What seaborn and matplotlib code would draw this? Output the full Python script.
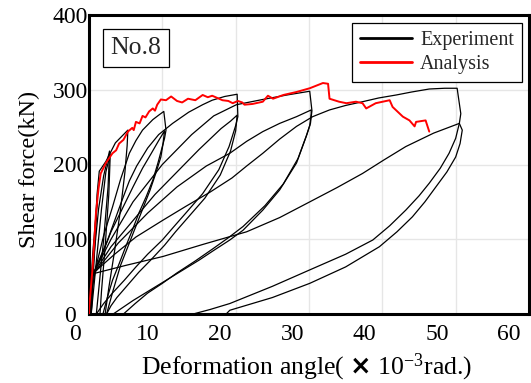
import numpy as np
import pandas as pd
import matplotlib
matplotlib.use("Agg")
import matplotlib.pyplot as plt
from matplotlib.lines import Line2D
from matplotlib.transforms import ScaledTranslation
import seaborn as sns

# ---------------- data ----------------
x_ticks = [0, 10, 20, 30, 40, 50, 60]
y_ticks = [0, 100, 200, 300, 400]

# Analysis (red envelope)
ana_x = [0, 0.04, 0.5, 0.95, 1.3, 1.6, 2.3, 3.2, 3.7, 4.1, 4.7, 5.3, 5.9, 6.1, 6.4, 6.9, 7.3,
         7.7, 8.2, 8.7, 9.0, 9.3, 9.8, 10.5, 11.2, 12.0, 12.7, 13.5, 14.5, 15.5, 16.2, 16.8,
         17.5, 18.2, 19.0, 19.6, 20.3, 20.9, 21.2, 22.3, 23.7, 24.4, 25.1, 26.5, 28.3, 30.1,
         31.9, 32.6, 32.8, 34.1, 35.1, 36.4, 37.3, 37.8, 39.1, 41.0, 41.4, 42.8, 43.7, 44.4,
         44.6, 45.9, 46.4]
ana_y = [0, 10, 63, 135, 168, 188, 202, 215, 219, 228, 233, 244, 249, 246, 257, 255, 265,
         263, 271, 275, 272, 280, 287, 286, 291, 285, 283, 288, 286, 293, 290, 292,
         289, 286, 285, 282, 285, 283, 280, 281, 284, 292, 288, 293, 297, 302,
         309, 308, 288, 284, 282, 284, 282, 275, 282, 286, 277, 264, 259, 251,
         257, 259, 244]

# Experiment: one list pair per cycle (loading branch, peak, unloading branch)
c1_x = [0.0, 0.5, 1.1, 0.9, 0.6, 0.3]
c1_y = [0, 80, 150, 110, 55, 0]
c2a_x = [0.1, 0.6, 1.3, 2.0, 2.8, 2.6, 2.0, 1.4, 1.0]
c2a_y = [0, 70, 140, 185, 218, 170, 100, 40, 0]
c2b_x = [0.3, 1.0, 1.7, 2.3, 2.9, 2.7, 2.2, 1.7, 1.5]
c2b_y = [0, 70, 140, 190, 214, 160, 90, 30, 0]
c5_x = [0.3, 0.7, 1.1, 1.4, 2.3, 3.6, 5.3, 5.2, 4.9, 4.3, 3.5, 2.7, 2.2]
c5_y = [0, 90, 160, 191, 204, 229, 246, 225, 190, 140, 85, 35, 0]
c10a_x = [0.2, 0.95, 2.0, 3.2, 4.3, 5.5, 6.4, 7.3, 8.7, 9.5, 10.2, 10.5, 10.3, 10.0, 9.4,
          8.7, 7.8, 6.8, 5.9, 5.0, 4.1, 3.2, 2.5, 1.9]
c10a_y = [20, 63, 105, 143, 180, 215, 232, 246, 260, 266, 271, 246, 235, 224, 202,
          179, 157, 135, 112, 90, 67, 45, 22, 0]
c10b_x = [0.5, 1.8, 3.0, 4.5, 6.0, 7.3, 8.5, 9.5, 10.3, 10.1, 9.8, 9.1, 8.3, 7.3, 6.3, 5.3,
          4.3, 3.3, 2.4]
c10b_y = [52, 80, 110, 140, 170, 195, 215, 232, 245, 228, 210, 188, 165, 140, 115, 90,
          65, 32, 0]
c20a_x = [0.5, 1.5, 2.5, 3.5, 4.5, 5.5, 6.5, 8.0, 9.5, 11.4, 13.6, 15.5, 16.8, 18.5, 20.2,
          20.3, 20.0, 19.1, 17.7, 15.5, 13.2, 11.5, 10.0, 8.0, 6.4, 4.8, 3.2, 2.0, 1.0]
c20a_y = [52, 75, 98, 125, 152, 178, 198, 222, 240, 255, 270, 280, 286, 291, 294,
          264, 252, 224, 193, 161, 135, 116, 99, 80, 63, 45, 28, 14, 0]
c20b_x = [0.5, 3.0, 6.0, 9.0, 12.0, 15.0, 18.0, 19.3, 20.2, 20.1, 20.0, 19.3, 17.9, 15.8,
          13.4, 11.8, 10.3, 8.5, 6.8, 5.3, 3.8, 3.0, 2.4]
c20b_y = [52, 90, 125, 160, 190, 220, 248, 258, 266, 255, 245, 218, 186, 155,
          128, 110, 92, 73, 56, 39, 22, 11, 0]
c30a_x = [0.5, 3.0, 6.0, 10.0, 14.0, 17.0, 20.1, 23.7, 27.0, 30.1, 30.4, 30.2, 29.7, 28.5,
          26.5, 24.0, 21.0, 19.0, 17.0, 14.5, 12.0, 10.0, 8.0, 6.3, 4.7]
c30a_y = [52, 100, 150, 200, 240, 265, 280, 287, 293, 298, 272, 255, 240, 208,
          174, 145, 117, 102, 88, 71, 55, 41, 28, 14, 0]
c30b_x = [0.5, 4.0, 8.0, 12.0, 16.0, 19.2, 21.5, 23.7, 26.0, 28.3, 30.3, 30.3, 30.1, 29.6,
          28.3, 26.0, 23.7, 21.0, 19.2, 17.0, 15.0, 12.5, 10.0, 8.0, 6.0, 4.5, 3.3]
c30b_y = [52, 95, 135, 170, 198, 215, 231, 244, 255, 264, 273, 268, 252, 237,
          202, 166, 139, 112, 99, 85, 72, 57, 42, 30, 18, 8, 0]
c50a_x = [0.5, 3.5, 6.4, 10.0, 13.2, 16.5, 19.5, 21.5, 23.7, 26.0, 28.3, 30.5, 32.8, 35.0,
          37.3, 39.5, 41.9, 44.0, 46.4, 48.5, 50.2, 50.7, 50.5, 50.0, 49.1, 47.9, 46.4,
          45.0, 43.2, 41.0, 38.7, 35.0, 30.1, 25.0, 19.2, 16.5, 14.2]
c50a_y = [54, 80, 103, 125, 144, 163, 182, 198, 215, 234, 251, 264, 273, 279,
          284, 289, 293, 297, 301, 302, 302, 268, 255, 235, 215, 195, 175,
          158, 139, 118, 99, 80, 59, 37, 14, 6, 0]
c50b_x = [0.6, 5.0, 10.1, 15.5, 21.5, 26.0, 30.1, 33.8, 37.3, 40.2, 43.2, 47.0, 50.5, 50.9,
          50.6, 50.0, 48.8, 47.3, 45.8, 44.1, 42.0, 39.6, 35.0, 30.1, 25.0, 19.2, 18.7]
c50b_y = [54, 65, 77, 93, 110, 129, 150, 169, 188, 206, 224, 242, 255, 246,
          228, 210, 190, 170, 150, 130, 110, 90, 63, 41, 22, 5, 0]

exp_paths = [(c1_x, c1_y), (c2a_x, c2a_y), (c2b_x, c2b_y), (c5_x, c5_y),
             (c10a_x, c10a_y), (c10b_x, c10b_y), (c20a_x, c20a_y), (c20b_x, c20b_y),
             (c30a_x, c30a_y), (c30b_x, c30b_y), (c50a_x, c50a_y), (c50b_x, c50b_y)]

rows = []
for i, (xs, ys) in enumerate(exp_paths):
    for j, (xv, yv) in enumerate(zip(xs, ys)):
        rows.append({"x": xv, "y": yv, "seg": i, "order": j})
exp_df = pd.DataFrame(rows)
ana_df = pd.DataFrame({"x": ana_x, "y": ana_y, "seg": 0})

# ---------------- figure ----------------
sns.set_style("whitegrid")
plt.rcParams["font.family"] = ["Liberation Serif", "DejaVu Serif"]
plt.rcParams["mathtext.fontset"] = "custom"
plt.rcParams["mathtext.rm"] = "Liberation Serif"
plt.rcParams["mathtext.it"] = "Liberation Serif:italic"
plt.rcParams["mathtext.bf"] = "DejaVu Sans:bold"

W, H = 531, 383
fig = plt.figure(figsize=(W / 100, H / 100), dpi=100)
ax = fig.add_axes([89 / W, 1 - 314 / H, (529 - 89) / W, (314 - 15) / H])

sns.lineplot(data=exp_df, x="x", y="y", units="seg", estimator=None, sort=False,
             color="black", lw=0.9, ax=ax, legend=False)
sns.lineplot(data=ana_df, x="x", y="y", units="seg", estimator=None, sort=False,
             color="red", lw=1.4, ax=ax, legend=False, zorder=5)

ax.set_xlim(0, 60)
ax.set_ylim(0, 400)
ax.set_xticks(x_ticks)
ax.set_yticks(y_ticks)
ax.set_xticklabels([str(v) for v in x_ticks])
ax.set_yticklabels([str(v) for v in y_ticks])
ax.grid(True, color="#e6e6e6", lw=1.0)
ax.set_facecolor("white")
for sp in ax.spines.values():
    sp.set_color("black")
    sp.set_linewidth(2.2)
    sp.set_visible(True)

ax.tick_params(axis="both", length=0, labelsize=17, colors="black")
ax.tick_params(axis="x", pad=7)
ax.tick_params(axis="y", pad=13.5)
for lab in ax.get_yticklabels():
    lab.set_horizontalalignment("center")

# x tick labels sit slightly left of the grid lines in the original
for k, tick in enumerate(ax.xaxis.get_major_ticks()):
    dx = -(13.5 + 1.05 * k) / 100.0
    tick.label1.set_transform(tick.label1.get_transform() +
                              ScaledTranslation(dx, 0, fig.dpi_scale_trans))

ax.set_xlabel(r"Deformation angle( $\mathbf{\times}$ 10$^{-3}$rad.)", fontsize=18.5,
              color="black")
ax.set_ylabel("Shear force(kN)", fontsize=17.5, color="black")
ax.xaxis.set_label_coords(0.495, -0.125)
ax.yaxis.set_label_coords(-0.111, 0.485)

ax.text(0.107, 0.89, "No.8", transform=ax.transAxes, fontsize=18.5, ha="center",
        va="center", bbox=dict(boxstyle="square,pad=0.3", fc="white", ec="black", lw=0.9),
        zorder=6)

handles = [Line2D([], [], color="black", lw=2.0), Line2D([], [], color="red", lw=2.0)]
leg = ax.legend(handles, ["Experiment", "Analysis"], loc="upper right",
                bbox_to_anchor=(0.984, 0.973), borderaxespad=0, fontsize=14.5,
                handlelength=2.6, handletextpad=0.4, labelspacing=0.25,
                fancybox=False, framealpha=1, edgecolor="black", borderpad=0.4)
leg.get_frame().set_linewidth(0.9)
leg.set_zorder(7)

fig.savefig("out.png", dpi=100)
